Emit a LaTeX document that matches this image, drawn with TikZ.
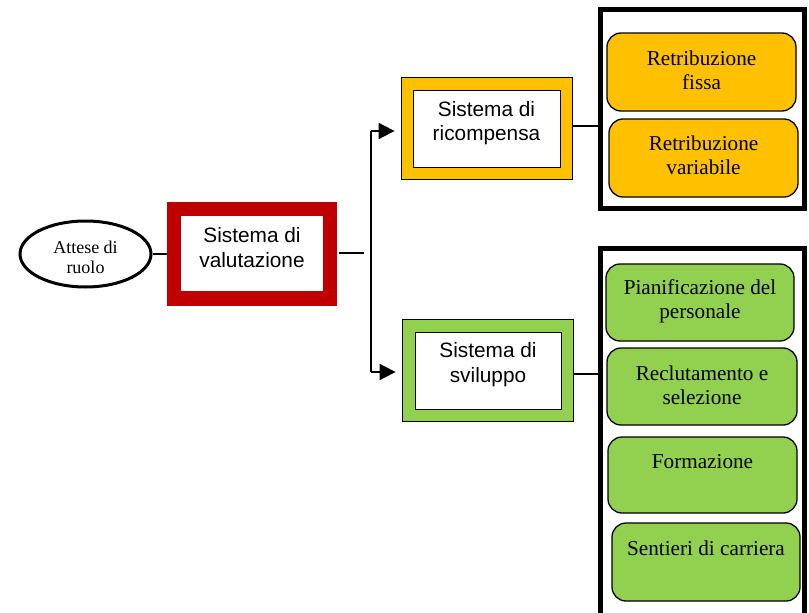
\documentclass[tikz,border=0pt]{standalone}
\usepackage{fontspec}
\setmainfont{Liberation Serif}
\setsansfont{Liberation Sans}
\usetikzlibrary{arrows.meta,shapes.geometric}

\definecolor{valred}{HTML}{C00000}
\definecolor{ricyellow}{HTML}{FFC000}
\definecolor{svigreen}{HTML}{92D050}

\tikzset{
  innerbox/.style={fill=white, draw=black, line width=0.9pt, inner sep=0pt},
  sanslabel/.style={font=\sffamily\fontsize{20.8}{24.5}\selectfont, align=center, inner sep=0pt},
  seriflabel/.style={font=\fontsize{21.2}{23.5}\selectfont, align=center, inner sep=0pt},
  itembox/.style={draw=black, line width=1.3pt, rounded corners=14pt, inner sep=0pt},
  link/.style={line width=1.8pt},
  arrowlink/.style={line width=1.8pt, -{Triangle[length=16pt,width=16pt]}, shorten >=6pt},
  frame/.style={line width=5pt},
}

\begin{document}
\begin{tikzpicture}[x=1pt, y=-1pt]
\useasboundingbox (0,0) rectangle (809,613);

% role expectations
\node[draw=black, line width=3pt, ellipse, minimum width=131pt, minimum height=66pt, inner sep=0pt]
  (attese) at (85.5,254) {};
\node[font=\fontsize{18}{19.5}\selectfont, align=center, inner sep=0pt]
  (attesetxt) at (85.5,257.5) {Attese di\\ruolo};

% evaluation system
\node[fill=valred, minimum width=170pt, minimum height=104pt, inner sep=0pt] (val) at (252,254) {};
\node[fill=white, minimum width=142pt, minimum height=75pt, inner sep=0pt] (valin) at (252,253.5) {};
\node[sanslabel] (valtxt) at (252,247.5) {Sistema di\\valutazione};

% reward system
\node[fill=ricyellow, draw=black, line width=0.8pt, minimum width=171pt, minimum height=102pt, inner sep=0pt]
  (ric) at (486.5,128) {};
\node[innerbox, minimum width=147pt, minimum height=77pt] (ricin) at (486.5,128.5) {};
\node[sanslabel] (rictxt) at (486.5,123) {Sistema di\\ricompensa};

% development system
\node[fill=svigreen, draw=black, line width=0.8pt, minimum width=171pt, minimum height=102pt, inner sep=0pt]
  (svi) at (487.5,370) {};
\node[innerbox, minimum width=146pt, minimum height=77pt] (sviin) at (488,370.5) {};
\node[sanslabel] (svitxt) at (488,364.5) {Sistema di\\sviluppo};

% frames around the sub-items
\draw[frame] (600,9.5) rectangle (804.5,208.5);
\draw[frame] (600,640) -- (600,248) -- (804.5,248) -- (804.5,640);
\coordinate (ftop) at (597.5,126);
\coordinate (fbot) at (597.5,374);

% reward items
\node[itembox, fill=ricyellow, minimum width=189pt, minimum height=78pt] (fissa) at (701.5,72) {};
\node[seriflabel] at (701.5,70) {Retribuzione\\fissa};
\node[itembox, fill=ricyellow, minimum width=189pt, minimum height=78pt] (variabile) at (703.5,158) {};
\node[seriflabel] at (703.5,155) {Retribuzione\\variabile};

% development items
\node[itembox, fill=svigreen, minimum width=188pt, minimum height=77pt] (pian) at (700,302.5) {};
\node[seriflabel] at (700,301.5) {Pianificazione del\\personale};
\node[itembox, fill=svigreen, minimum width=190pt, minimum height=77pt] (recl) at (702,386.5) {};
\node[seriflabel] at (702,385) {Reclutamento e\\selezione};
\node[itembox, fill=svigreen, minimum width=189pt, minimum height=76pt] (form) at (702.5,475) {};
\node[seriflabel] at (702.5,461.5) {Formazione};
\node[itembox, fill=svigreen, minimum width=188pt, minimum height=78pt] (sent) at (706,562) {};
\node[seriflabel] at (706,548.5) {Sentieri di carriera};

% connectors
\coordinate (split) at (364,253);
\coordinate (bt) at (371,131);
\coordinate (bb) at (371,372);
\draw[link] (attese.east) -- (val.west |- attese.east);
\draw[link] (val.east) ++(2,-1) -- (split);
\draw[link] (bt) -- (bb);
\draw[arrowlink] (bt) -- (ric.west |- bt);
\draw[arrowlink] (bb) -- (svi.west |- bb);
\draw[link] (ric.east |- ftop) -- (ftop);
\draw[link] (svi.east |- fbot) -- (fbot);
\end{tikzpicture}
\end{document}
